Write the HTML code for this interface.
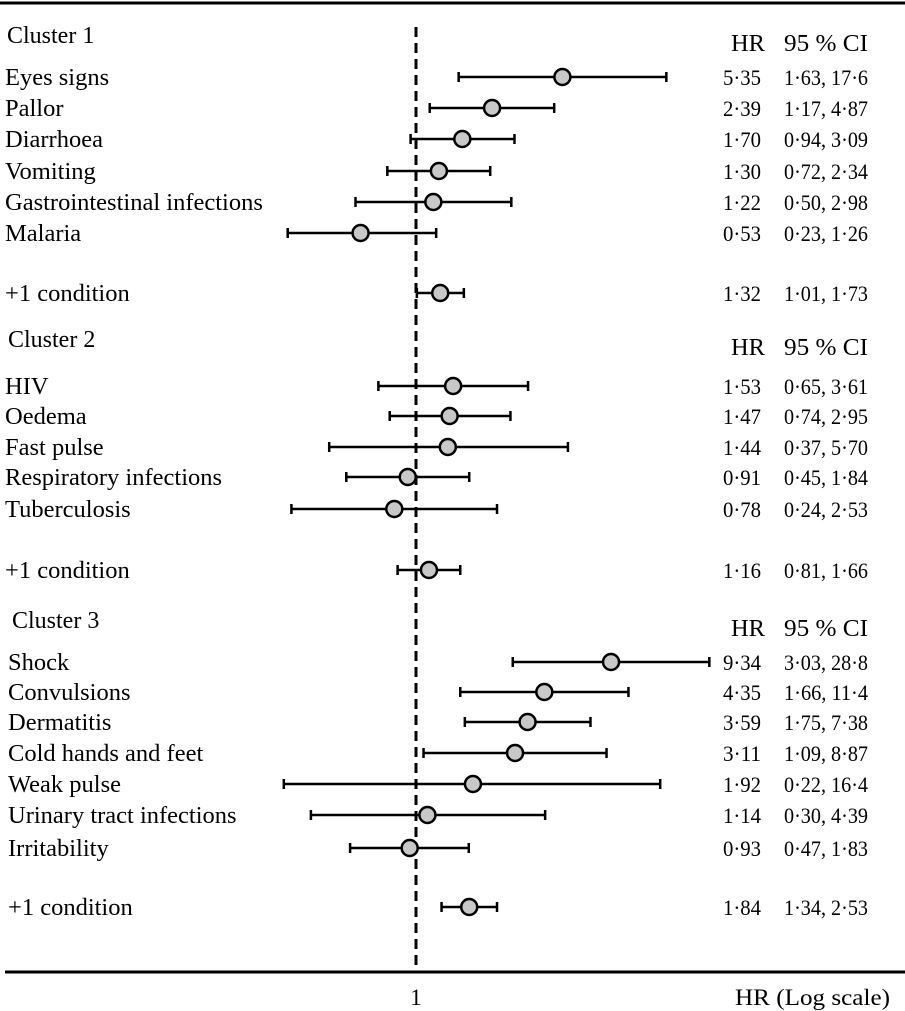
<!DOCTYPE html>
<html><head><meta charset="utf-8"><style>
body{margin:0;background:#fff}
svg{display:block;font-family:"Liberation Serif",serif}
</style></head><body>
<svg id="c" width="905" height="1011">
<line x1="0" y1="3" x2="905" y2="3" stroke="#000" stroke-width="3"/>
<line x1="5" y1="972" x2="905" y2="972" stroke="#000" stroke-width="3"/>
<line x1="416" y1="27" x2="416" y2="972" stroke="#000" stroke-width="3" stroke-dasharray="10,6"/>
<text x="416" y="1005" font-size="23" text-anchor="middle">1</text>
<text x="735" y="1005" font-size="23" textLength="155" lengthAdjust="spacingAndGlyphs">HR (Log scale)</text>
<g id="g"></g>
</svg>
<script>
const labels=["Eyes signs","Pallor","Diarrhoea","Vomiting","Gastrointestinal infections","Malaria","+1 condition","HIV","Oedema","Fast pulse","Respiratory infections","Tuberculosis","+1 condition","Shock","Convulsions","Dermatitis","Cold hands and feet","Weak pulse","Urinary tract infections","Irritability","+1 condition"];
const hr=[5.35,2.39,1.70,1.30,1.22,0.53,1.32,1.53,1.47,1.44,0.91,0.78,1.16,9.34,4.35,3.59,3.11,1.92,1.14,0.93,1.84];
const lo=[1.63,1.17,0.94,0.72,0.50,0.23,1.01,0.65,0.74,0.37,0.45,0.24,0.81,3.03,1.66,1.75,1.09,0.22,0.30,0.47,1.34];
const hi=[17.6,4.87,3.09,2.34,2.98,1.26,1.73,3.61,2.95,5.70,1.84,2.53,1.66,28.8,11.4,7.38,8.87,16.4,4.39,1.83,2.53];
const hrTxt=["5·35","2·39","1·70","1·30","1·22","0·53","1·32","1·53","1·47","1·44","0·91","0·78","1·16","9·34","4·35","3·59","3·11","1·92","1·14","0·93","1·84"];
const ciTxt=["1·63, 17·6","1·17, 4·87","0·94, 3·09","0·72, 2·34","0·50, 2·98","0·23, 1·26","1·01, 1·73","0·65, 3·61","0·74, 2·95","0·37, 5·70","0·45, 1·84","0·24, 2·53","0·81, 1·66","3·03, 28·8","1·66, 11·4","1·75, 7·38","1·09, 8·87","0·22, 16·4","0·30, 4·39","0·47, 1·83","1·34, 2·53"];
const clusters=["Cluster 1","Cluster 2","Cluster 3"];
const rowY=[77,108,139,171,202,233,293,386,416,447,477,509,570,662,692,722,753,784,815,848,907];
const headY=[35,339,620];
const labX=[5,5,5,5,5,5,5,5,5,5,5,5,5,8,8,8,8,8,8,8,8];
const headX=[7,8,12];
const X=v=>416+201*Math.log10(v);
const NS="http://www.w3.org/2000/svg",g=document.getElementById('g');
function mk(t,a,p){const e=document.createElementNS(NS,t);for(const k in a)e.setAttribute(k,a[k]);(p||g).appendChild(e);return e;}
clusters.forEach((c,i)=>{
 let t=mk('text',{x:headX[i],y:headY[i]+8,'font-size':24});t.textContent=c;
 
 
 let h=mk('text',{x:731,y:headY[i]+16,'font-size':24,textLength:34,lengthAdjust:'spacingAndGlyphs'});h.textContent="HR";
 
 
 let h2=mk('text',{x:784,y:headY[i]+16,'font-size':24,textLength:84,lengthAdjust:'spacingAndGlyphs'});h2.textContent="95 % CI";
 
 
});
labels.forEach((l,i)=>{
 const y=rowY[i];
 const row=mk('g',{});
 
 
 let t=mk('text',{x:labX[i],y:y+8,'font-size':24.5},row);t.textContent=l;
 
 
 const a=X(lo[i]),b=X(hi[i]);
 let ln=mk('path',{d:`M${a},${y}H${b}M${a},${y-5}V${y+5}M${b},${y-5}V${y+5}`,stroke:'#000','stroke-width':2.5,fill:'none'},row);
 
 
 let c=mk('circle',{cx:X(hr[i]),cy:y,r:8,fill:'#c8c8c8',stroke:'#000','stroke-width':2.5},row);
 
 
 let v=mk('text',{x:723,y:y+8,'font-size':22,textLength:38,lengthAdjust:'spacingAndGlyphs'},row);v.textContent=hrTxt[i];
 
 
 let ci=mk('text',{x:784,y:y+8,'font-size':22,textLength:84,lengthAdjust:'spacingAndGlyphs'},row);ci.textContent=ciTxt[i];
 
 
});
</script>
</body></html>
